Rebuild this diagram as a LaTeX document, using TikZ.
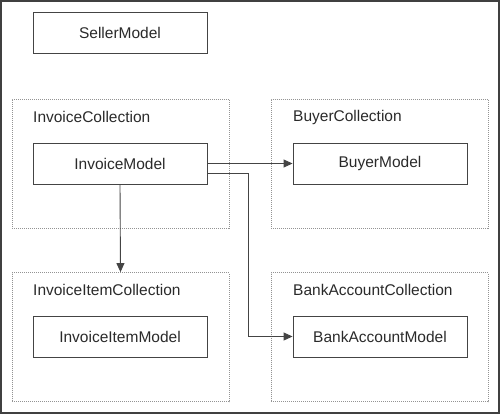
\documentclass[tikz,border=0pt]{standalone}
\usepackage{fontspec}
\setmainfont{Liberation Sans}
\usetikzlibrary{arrows.meta}
\definecolor{txt}{HTML}{2A2A2A}
\definecolor{edge}{HTML}{444444}
\begin{document}
\begin{tikzpicture}[x=1pt,y=-1pt,
  model/.style={draw=edge,line width=0.9pt,minimum width=174pt,minimum height=41pt,inner sep=0pt,text=txt,font=\fontsize{15.5}{18}\selectfont},
  coll/.style={draw=gray!85,line width=0.8pt,dash pattern=on 1pt off 1pt,minimum width=217pt,minimum height=129pt,inner sep=0pt},
  lbl/.style={anchor=west,inner sep=0pt,text=txt,font=\fontsize{15.5}{18}\selectfont},
  conn/.style={draw=edge,line width=0.9pt,-{Triangle[length=9pt,width=8pt]}}]
\useasboundingbox (0,0) rectangle (500,414);
\draw[draw=black!75,line width=2pt] (1,1) rectangle (499,413);
\node[model] (seller) at (120,32.5) {SellerModel};
\node[coll] (invcoll) at (120.5,163.5) {};
\node[coll] (buycoll) at (379.5,163.5) {};
\node[coll] (itemcoll) at (120.5,337) {};
\node[coll] (bankcoll) at (379.5,337) {};
\node[lbl] (invlbl) at (33,117) {InvoiceCollection};
\node[lbl] (buylbl) at (293,117) {BuyerCollection};
\node[lbl] (itemlbl) at (33,290) {InvoiceItemCollection};
\node[lbl] (banklbl) at (293,290) {BankAccountCollection};
\node[model] (invoice) at (120,163.5) {InvoiceModel};
\node[model] (buyer) at (380,163.5) {BuyerModel};
\node[model] (item) at (120,336.5) {InvoiceItemModel};
\node[model] (bank) at (380,336.5) {BankAccountModel};
\draw[conn] (invoice.east) -- (buyer.west);
\draw[conn] ([yshift=-9.5pt]invoice.east) -| ([xshift=-44pt]bank.west) -- (bank.west);
\draw[conn] (invoice.south) -- (itemcoll.north);
\end{tikzpicture}
\end{document}
